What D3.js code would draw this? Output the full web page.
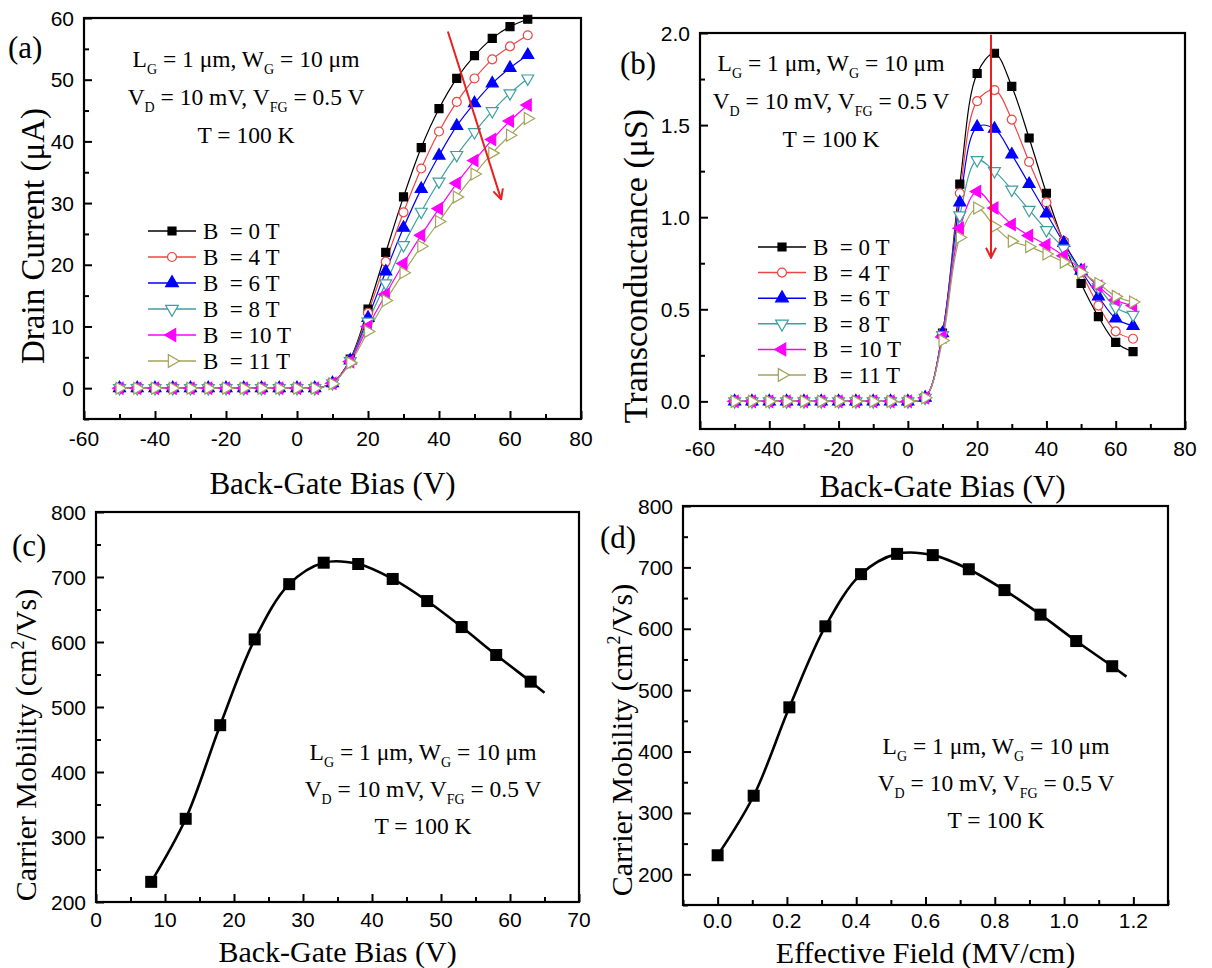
<!DOCTYPE html>
<html><head><meta charset="utf-8">
<script src="https://cdn.jsdelivr.net/npm/d3@7"></script>
<style>
html,body{margin:0;padding:0;background:#fff;}
svg{display:block;}
</style></head>
<body>
<svg id="chart" width="1212" height="968"></svg>
<script>
// ---------------- DATA ----------------
const biasV = [-50,-45,-40,-35,-30,-25,-20,-15,-10,-5,0,5,10,15,20,25,30,35,40,45,50,55,60,65];
const seriesNames = ["B  = 0 T","B  = 4 T","B  = 6 T","B  = 8 T","B  = 10 T","B  = 11 T"];
// Drain current (uA)
const id0T  = [0,0,0,0,0,0,0,0,0,0,0,0, 0.8,4.7,12.8,22.0,31.0,39.0,45.3,50.2,53.9,56.7,58.6,59.8];
const id4T  = [0,0,0,0,0,0,0,0,0,0,0,0, 0.8,4.6,12.2,20.5,28.5,35.6,41.6,46.4,50.2,53.3,55.4,57.2];
const id6T  = [0,0,0,0,0,0,0,0,0,0,0,0, 0.8,4.5,11.4,18.9,26.0,32.3,37.7,42.5,46.2,49.4,51.9,54.0];
const id8T  = [0,0,0,0,0,0,0,0,0,0,0,0, 0.8,4.4,10.8,17.0,23.2,28.6,33.5,37.8,41.5,44.9,47.8,50.2];
const id10T = [0,0,0,0,0,0,0,0,0,0,0,0, 0.8,4.3,10.0,15.2,20.2,24.8,29.1,33.2,36.9,40.3,43.3,45.9];
const id11T = [0,0,0,0,0,0,0,0,0,0,0,0, 0.7,4.1,9.2,14.2,18.7,23.0,27.0,31.0,34.7,38.1,41.0,43.7];
// Transconductance (uS)
const gm0T  = [0,0,0,0,0,0,0,0,0,0,0, 0.02,0.37,1.18,1.78,1.89,1.71,1.43,1.13,0.86,0.64,0.46,0.32,0.27];
const gm4T  = [0,0,0,0,0,0,0,0,0,0,0, 0.02,0.37,1.13,1.63,1.69,1.53,1.30,1.08,0.87,0.70,0.52,0.38,0.34];
const gm6T  = [0,0,0,0,0,0,0,0,0,0,0, 0.02,0.37,1.08,1.49,1.48,1.34,1.18,1.02,0.86,0.71,0.57,0.45,0.41];
const gm8T  = [0,0,0,0,0,0,0,0,0,0,0, 0.02,0.36,1.01,1.31,1.25,1.15,1.04,0.93,0.83,0.715,0.62,0.51,0.47];
const gm10T = [0,0,0,0,0,0,0,0,0,0,0, 0.02,0.35,0.94,1.14,1.05,0.96,0.90,0.85,0.79,0.715,0.625,0.55,0.52];
const gm11T = [0,0,0,0,0,0,0,0,0,0,0, 0.02,0.33,0.89,1.05,0.95,0.87,0.84,0.80,0.756,0.70,0.64,0.57,0.54];
// Mobility
const mobBias  = [8,13,18,23,28,33,38,43,48,53,58,63];
const effField = [0,0.104,0.207,0.311,0.414,0.518,0.621,0.725,0.828,0.932,1.035,1.139];
const mobility = [231,328,472,604,689,722,720,697,663,623,580,539];
const mobCurveEndBias = 65, mobCurveEndField = 1.18, mobCurveEndValue = 522;
// Arrows (data coords)
const arrowA = [[42.5,57.8],[57.5,30.6]];
const arrowB = [[24,1.99],[24,0.78]];
// Ticks
const ticksBiasMajor = [-60,-40,-20,0,20,40,60,80];
const ticksBiasMinor = [-50,-30,-10,10,30,50,70];
const ticksIdMajor = [0,10,20,30,40,50,60];
const ticksIdMinor = [-5,5,15,25,35,45,55];
const ticksGmMajor = [0,0.5,1.0,1.5,2.0];
const ticksGmMinor = [0.25,0.75,1.25,1.75];
const ticksMobBiasMajor = [0,10,20,30,40,50,60,70];
const ticksMobBiasMinor = [5,15,25,35,45,55,65];
const ticksMobMajor = [200,300,400,500,600,700,800];
const ticksMobMinor = [250,350,450,550,650,750];
const ticksFieldMajor = [0,0.2,0.4,0.6,0.8,1.0,1.2];
const ticksFieldMinor = [-0.1,0.1,0.3,0.5,0.7,0.9,1.1,1.3];
const ticksMobDMinor = [150,250,350,450,550,650,750];

// ---------------- STYLE ----------------
const colors = ["#000000","#ee4444","#0000ff","#3f9f9f","#ff00ff","#a3a35a"];
const fills  = ["#000000","#ffffff","#0000ff","#ffffff","#ff00ff","#ffffff"];
const shapes = ["square","circle","triUp","triDown","triLeft","triRight"];
const serif = "'Liberation Serif','Times New Roman',serif";
const sans = "'Liberation Sans',Arial,sans-serif";

const svg = d3.select("#chart");
const defs = svg.append("defs");
defs.append("marker").attr("id","arrowhead").attr("viewBox","0 0 12 12")
  .attr("refX",11).attr("refY",6).attr("markerWidth",12).attr("markerHeight",12)
  .attr("markerUnits","userSpaceOnUse").attr("orient","auto")
  .append("path").attr("d","M1,1 L11,6 L1,11").attr("fill","none").attr("stroke","#e8201f").attr("stroke-width",2);

function symbolPath(shape, size){
  if (shape==="square") return d3.symbol(d3.symbolSquare, size)();
  if (shape==="circle") return d3.symbol(d3.symbolCircle, size*0.9)();
  return d3.symbol(d3.symbolTriangle, size*1.0)();
}
function symbolRot(shape){
  return {triDown:180, triLeft:-90, triRight:90}[shape] || 0;
}

function makePanel(cfg){
  const g = svg.append("g");
  const x = d3.scaleLinear().domain(cfg.xDomain).range([cfg.l,cfg.r]);
  const y = d3.scaleLinear().domain(cfg.yDomain).range([cfg.b,cfg.t]);
  const fmtX = cfg.fmtX || (d=>String(d));
  const fmtY = cfg.fmtY || (d=>String(d));
  const ax = g.append("g").attr("transform",`translate(0,${cfg.b})`)
    .call(d3.axisTop(x).tickValues(cfg.xMajor).tickSize(8).tickFormat(""));
  const axm = g.append("g").attr("transform",`translate(0,${cfg.b})`)
    .call(d3.axisTop(x).tickValues(cfg.xMinor).tickSize(5).tickFormat(""));
  const ay = g.append("g").attr("transform",`translate(${cfg.l},0)`)
    .call(d3.axisRight(y).tickValues(cfg.yMajor).tickSize(8).tickFormat(""));
  const aym = g.append("g").attr("transform",`translate(${cfg.l},0)`)
    .call(d3.axisRight(y).tickValues(cfg.yMinor).tickSize(5).tickFormat(""));
  [ax,axm,ay,aym].forEach(a=>{a.select(".domain").remove(); a.selectAll("line").attr("stroke","#000").attr("stroke-width",2);});
  g.append("g").selectAll("text").data(cfg.xMajor).join("text")
    .attr("x",d=>x(d)).attr("y",cfg.b+cfg.xLabelOff).attr("text-anchor","middle")
    .attr("font-family",sans).attr("font-size",21).text(fmtX);
  g.append("g").selectAll("text").data(cfg.yMajor).join("text")
    .attr("x",cfg.l-10).attr("y",d=>y(d)+7.5).attr("text-anchor","end")
    .attr("font-family",sans).attr("font-size",21).text(fmtY);
  g.append("rect").attr("x",cfg.l).attr("y",cfg.t).attr("width",cfg.r-cfg.l).attr("height",cfg.b-cfg.t)
    .attr("fill","none").attr("stroke","#000").attr("stroke-width",2.2);
  g.append("text").attr("x",(cfg.l+cfg.r)/2).attr("y",cfg.xTitleY).attr("text-anchor","middle")
    .attr("font-family",serif).attr("font-size",cfg.xTitleSize).text(cfg.xTitle);
  const yt = g.append("text").attr("transform",`translate(${cfg.yTitleX},${cfg.yTitleCY}) rotate(-90)`)
    .attr("text-anchor","middle").attr("font-family",serif).attr("font-size",cfg.yTitleSize);
  cfg.yTitle(yt);
  g.append("text").attr("x",cfg.labelX).attr("y",cfg.labelY).attr("font-family",serif).attr("font-size",31).text(cfg.label);
  return {g,x,y};
}

function annotation(g, cx, y0, dy){
  const lines = [
    [["L",""],["G","sub"],[" = 1 μm, W",""],["G","sub"],[" = 10 μm",""]],
    [["V",""],["D","sub"],[" = 10 mV, V",""],["FG","sub"],[" = 0.5 V",""]],
    [["T = 100 K",""]]
  ];
  lines.forEach((ln,i)=>{
    const t = g.append("text").attr("x",cx).attr("y",y0+i*dy).attr("text-anchor","middle")
      .attr("font-family",serif).attr("font-size",23.5);
    let sub=false;
    ln.forEach(([s,k])=>{
      const ts = t.append("tspan").text(s);
      if (k==="sub"){ ts.attr("font-size",14).attr("dy", sub?0:7); sub=true; }
      else if (sub){ ts.attr("dy",-7); sub=false; }
    });
  });
}

function seriesPanel(P, xs, seriesList, legendCfg){
  const line = d3.line().x(d=>P.x(d[0])).y(d=>P.y(d[1])).curve(d3.curveCatmullRom.alpha(0.5));
  seriesList.forEach((vals,i)=>{
    const pts = xs.map((v,j)=>[v,vals[j]]);
    P.g.append("path").attr("d",line(pts)).attr("fill","none").attr("stroke",colors[i]).attr("stroke-width",1.2);
  });
  seriesList.forEach((vals,i)=>{
    const pts = xs.map((v,j)=>[v,vals[j]]);
    const sz = shapes[i]==="square"?64:(shapes[i]==="circle"?70:62);
    P.g.append("g").selectAll("path").data(pts).join("path")
      .attr("d",symbolPath(shapes[i],sz))
      .attr("transform",d=>`translate(${P.x(d[0])},${P.y(d[1])}) rotate(${symbolRot(shapes[i])})`)
      .attr("fill",fills[i]).attr("stroke",colors[i]).attr("stroke-width",1.2);
  });
  seriesNames.forEach((nm,i)=>{
    const yy = legendCfg.y0 + i*legendCfg.dy;
    P.g.append("line").attr("x1",legendCfg.x0).attr("x2",legendCfg.x0+48).attr("y1",yy).attr("y2",yy)
      .attr("stroke",colors[i]).attr("stroke-width",1.5);
    const sz = shapes[i]==="square"?64:70;
    P.g.append("path").attr("d",symbolPath(shapes[i],sz))
      .attr("transform",`translate(${legendCfg.x0+24},${yy}) rotate(${symbolRot(shapes[i])})`)
      .attr("fill",fills[i]).attr("stroke",colors[i]).attr("stroke-width",1.2);
    P.g.append("text").attr("x",legendCfg.x0+55).attr("y",yy+8).attr("font-family",serif).attr("font-size",23)
      .style("white-space","pre").text(nm);
  });
}

function drawArrow(P, pts){
  P.g.append("line").attr("x1",P.x(pts[0][0])).attr("y1",P.y(pts[0][1]))
    .attr("x2",P.x(pts[1][0])).attr("y2",P.y(pts[1][1]))
    .attr("stroke","#e8201f").attr("stroke-width",2).attr("marker-end","url(#arrowhead)");
}

function mobPanel(P, xs, endX){
  const pts = xs.map((v,j)=>[v,mobility[j]]);
  const linePts = pts.concat([[endX, mobCurveEndValue]]);
  const line = d3.line().x(d=>P.x(d[0])).y(d=>P.y(d[1])).curve(d3.curveCatmullRom.alpha(0.5));
  P.g.append("path").attr("d",line(linePts)).attr("fill","none").attr("stroke","#000").attr("stroke-width",2.6);
  P.g.append("g").selectAll("rect").data(pts).join("rect")
    .attr("x",d=>P.x(d[0])-6).attr("y",d=>P.y(d[1])-6).attr("width",12).attr("height",12).attr("fill","#000");
}

// ---------------- PANEL A ----------------
const A = makePanel({l:84,r:581,t:18,b:419,xDomain:[-60,80],yDomain:[-5,60],
  xMajor:ticksBiasMajor,xMinor:ticksBiasMinor,yMajor:ticksIdMajor,yMinor:ticksIdMinor,xLabelOff:27,
  xTitle:"Back-Gate Bias (V)",xTitleY:494,xTitleSize:31,yTitleX:44,yTitleCY:236,yTitleSize:33,label:"(a)",labelX:8,labelY:58,
  yTitle:t=>t.text("Drain Current (μA)")});
seriesPanel(A, biasV, [id0T,id4T,id6T,id8T,id10T,id11T], {x0:148,y0:231,dy:26});
annotation(A.g, 246, 67, 38);
drawArrow(A, arrowA);

// ---------------- PANEL B ----------------
const B = makePanel({l:700,r:1185,t:33,b:429,xDomain:[-60,80],yDomain:[-0.15,2.0],
  xMajor:ticksBiasMajor,xMinor:ticksBiasMinor,yMajor:ticksGmMajor,yMinor:ticksGmMinor,xLabelOff:27,
  fmtY:d3.format(".1f"),
  xTitle:"Back-Gate Bias (V)",xTitleY:497,xTitleSize:31,yTitleX:647,yTitleCY:266,yTitleSize:34,label:"(b)",labelX:620,labelY:74,
  yTitle:t=>t.text("Transconductance (μS)")});
seriesPanel(B, biasV, [gm0T,gm4T,gm6T,gm8T,gm10T,gm11T], {x0:758,y0:247,dy:25.6});
annotation(B.g, 831, 71, 38);
drawArrow(B, arrowB);

// ---------------- PANEL C ----------------
const mobTitle = t=>{ t.append("tspan").text("Carrier Mobility (cm"); t.append("tspan").text("2").attr("font-size",18).attr("dy",-12);
  t.append("tspan").text("/Vs)").attr("dy",12); };
const C = makePanel({l:96,r:579,t:512,b:902,xDomain:[0,70],yDomain:[200,800],
  xMajor:ticksMobBiasMajor,xMinor:ticksMobBiasMinor,yMajor:ticksMobMajor,yMinor:ticksMobMinor,xLabelOff:25,
  xTitle:"Back-Gate Bias (V)",xTitleY:962,xTitleSize:30,yTitleX:36,yTitleCY:745,yTitleSize:30,label:"(c)",labelX:12,labelY:556,
  yTitle:mobTitle});
mobPanel(C, mobBias, mobCurveEndBias);
annotation(C.g, 423, 760, 37);

// ---------------- PANEL D ----------------
const D = makePanel({l:683,r:1168,t:506,b:905,xDomain:[-0.1,1.3],yDomain:[150,800],
  xMajor:ticksFieldMajor,xMinor:ticksFieldMinor,yMajor:ticksMobMajor,yMinor:ticksMobDMinor,xLabelOff:23,
  fmtX:d3.format(".1f"),
  xTitle:"Effective Field (MV/cm)",xTitleY:963,xTitleSize:30,yTitleX:632,yTitleCY:740,yTitleSize:30,label:"(d)",labelX:600,labelY:548,
  yTitle:mobTitle});
mobPanel(D, effField, mobCurveEndField);
annotation(D.g, 996, 754, 37);
</script>
</body></html>
